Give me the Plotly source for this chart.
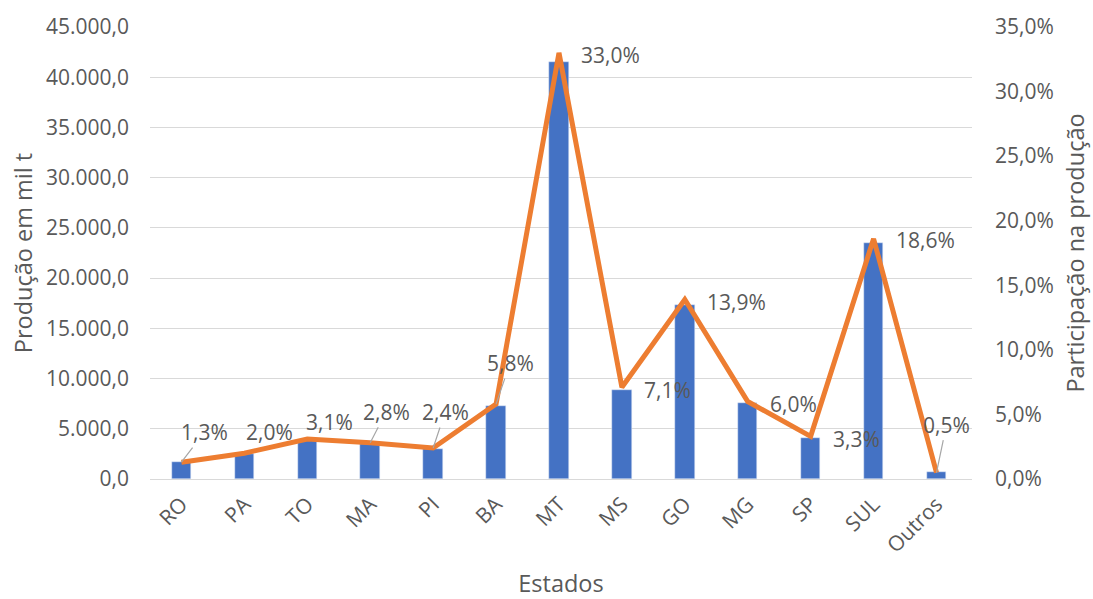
import plotly.graph_objects as go

estados = ["RO", "PA", "TO", "MA", "PI", "BA", "MT", "MS", "GO", "MG", "SP", "SUL", "Outros"]
producao = [1650, 2450, 3850, 3450, 3000, 7280, 41500, 8880, 17350, 7560, 4130, 23500, 650]
participacao = [1.3, 2.0, 3.1, 2.8, 2.4, 5.8, 33.0, 7.1, 13.9, 6.0, 3.3, 18.6, 0.5]

# label offsets (px) from each line point, and whether a leader line is drawn
label_dx = [23, 25, 22, 16, 12, 14, 52, 46, 52, 46, 46, 52, 10]
label_dy = [-30, -21, -17, -31, -36, -41, 2, 3, 3, 2, 3, 1, -48]
leader = [True, False, False, True, True, True, False, False, False, False, False, False, True]

FONT = "Open Sans"
TXT = "#595959"
GRID = "#D9D9D9"
LBL = 21
TTL = 23.5

fig = go.Figure()
fig.add_trace(go.Bar(
    x=estados, y=producao, marker_color="#4472C4", width=0.31,
    name="Produção", yaxis="y",
))
fig.add_trace(go.Scatter(
    x=estados, y=[p / 100 for p in participacao], mode="lines",
    line=dict(color="#ED7D31", width=5), name="Participação", yaxis="y2",
))

annotations = []
for e, p, dx, dy, ld in zip(estados, participacao, label_dx, label_dy, leader):
    txt = f"{p:.1f}%".replace(".", ",")
    annotations.append(dict(
        x=e, y=p / 100, xref="x", yref="y2", text=txt,
        showarrow=True, ax=dx, ay=dy, arrowhead=0, arrowwidth=1.2,
        arrowcolor="#A6A6A6" if ld else "rgba(0,0,0,0)", standoff=0,
        font=dict(family=FONT, size=LBL, color=TXT),
    ))

fig.update_layout(
    width=1093, height=599,
    margin=dict(l=150, r=121, t=27, b=120),
    plot_bgcolor="white", paper_bgcolor="white",
    separators=",.",
    showlegend=False,
    bargap=0,
    font=dict(family=FONT, size=LBL, color=TXT),
    xaxis=dict(
        tickangle=-45, showgrid=False, showline=False, ticks="",
        ticklabelstandoff=8, automargin=False,
        tickfont=dict(family=FONT, size=LBL, color=TXT),
        title=dict(text="Estados", font=dict(family=FONT, size=TTL, color=TXT), standoff=22),
    ),
    yaxis=dict(
        range=[0, 45000], dtick=5000, tickformat=",.1f",
        showgrid=True, gridcolor=GRID, gridwidth=1.3, zeroline=True,
        zerolinecolor=GRID, zerolinewidth=1.3, ticks="",
        ticklabelstandoff=20, automargin=False,
        tickfont=dict(family=FONT, size=LBL, color=TXT),
        title=dict(text="Produção em mil t", font=dict(family=FONT, size=TTL, color=TXT), standoff=6),
    ),
    yaxis2=dict(
        range=[0, 0.35], dtick=0.05, tickformat=".1%",
        overlaying="y", side="right", showgrid=False, zeroline=False, ticks="",
        ticklabelstandoff=22, automargin=False,
        tickfont=dict(family=FONT, size=LBL, color=TXT),
        title=dict(text="Participação na produção", font=dict(family=FONT, size=TTL, color=TXT), standoff=14),
    ),
    annotations=annotations,
)

fig.write_html("out.html")
